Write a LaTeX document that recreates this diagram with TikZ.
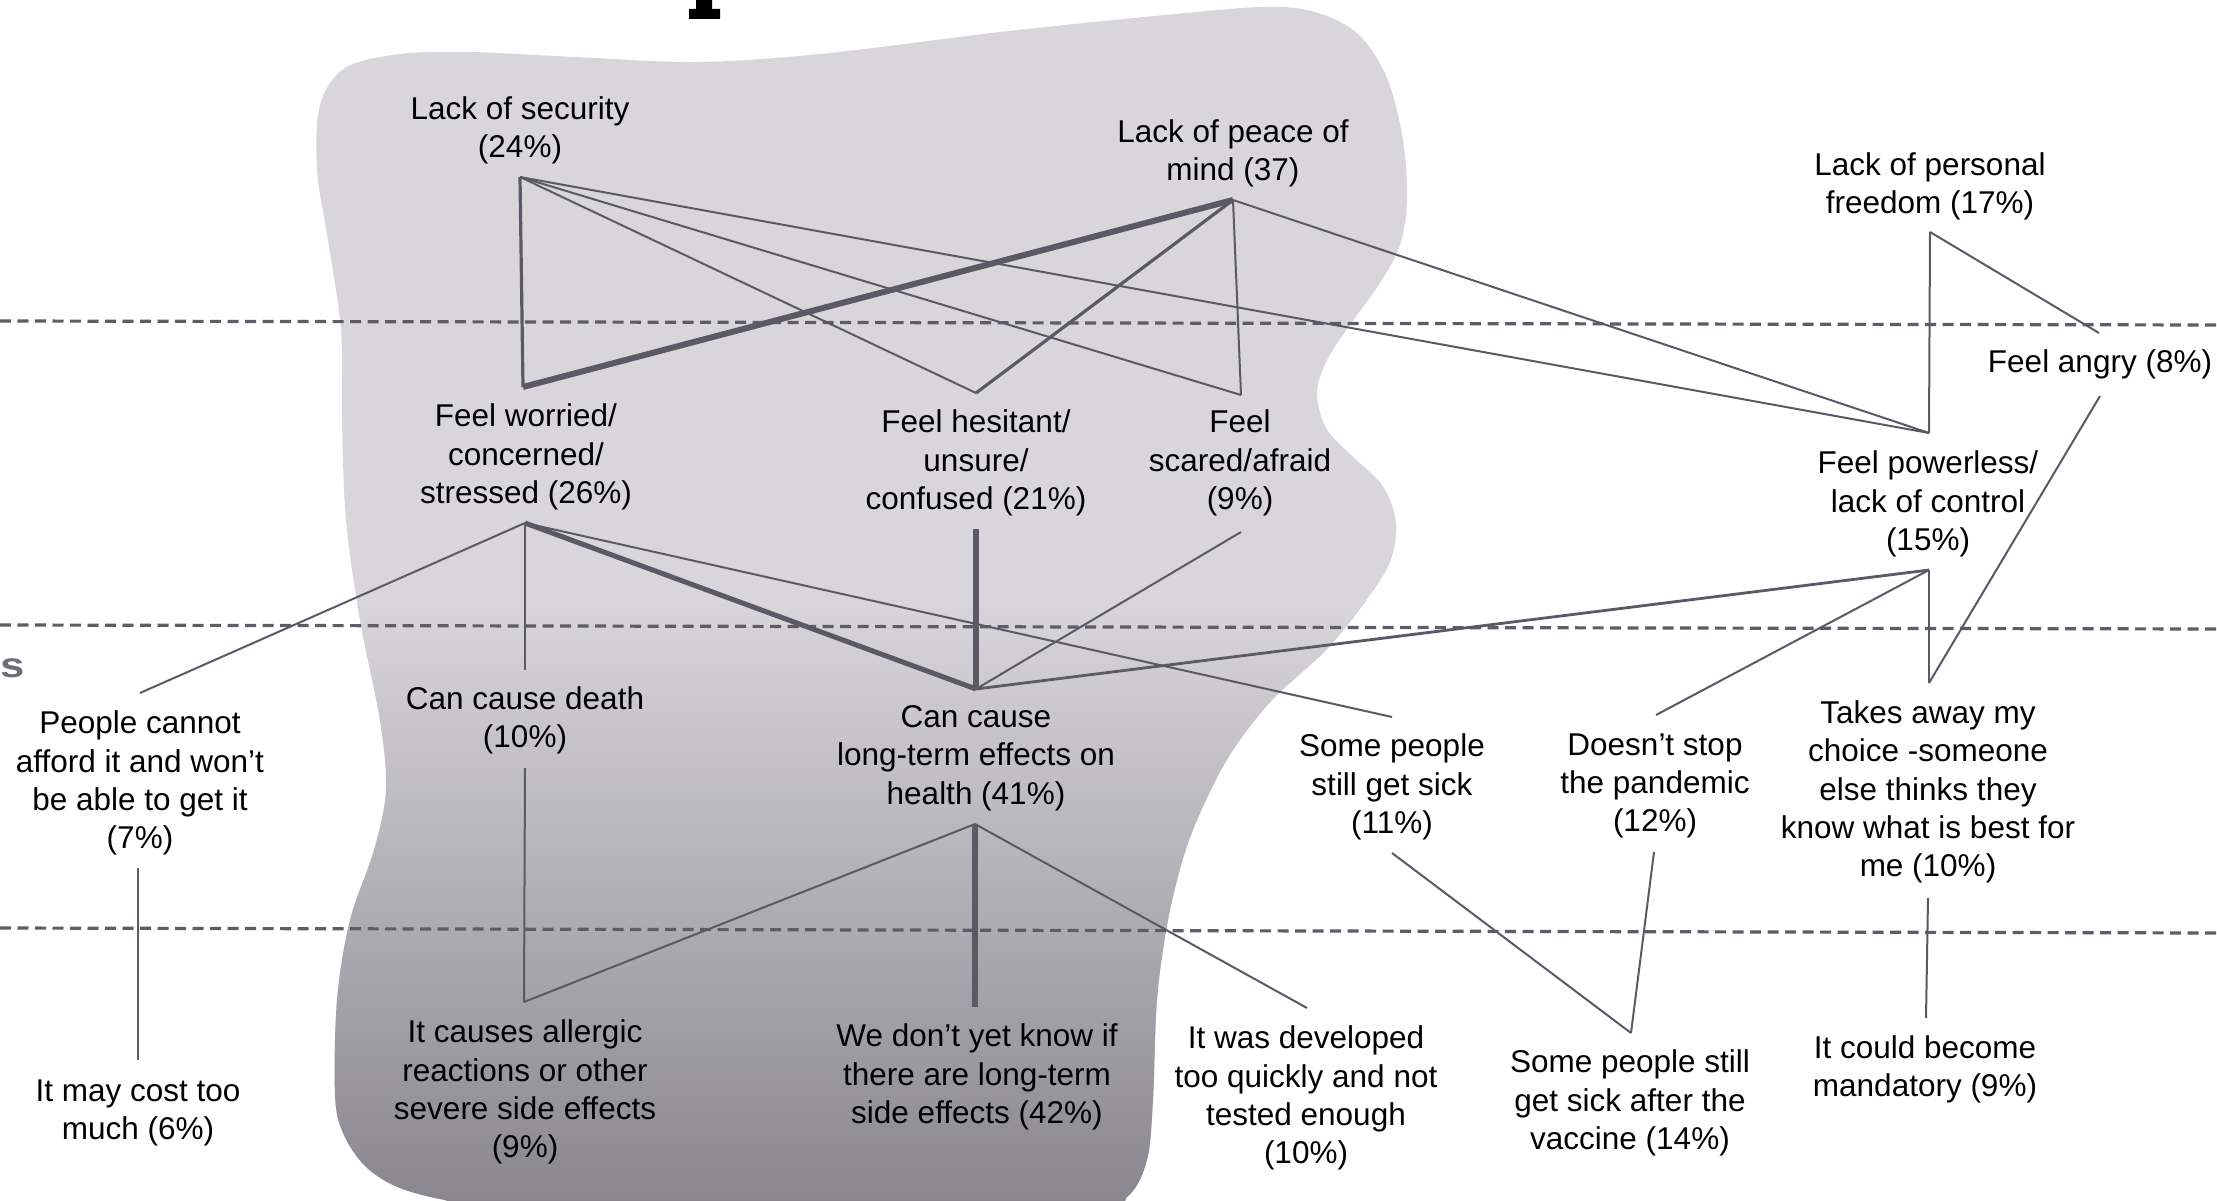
\documentclass[tikz,border=0pt]{standalone}
\usepackage{fontspec}
\setmainfont{Liberation Sans}
\definecolor{blobtop}{HTML}{D8D6DB}
\definecolor{blobbot}{HTML}{88858F}
\definecolor{linkc}{HTML}{5B5965}
\definecolor{dashc}{HTML}{5E5C68}
\definecolor{titlec}{HTML}{6F6D7A}
\newcommand\blobshape{plot[smooth cycle, tension=0.55] coordinates {
  (317,170) (320,105) (345,68) (400,54) (470,52) (575,57) (700,62) (830,53)
  (1000,32) (1155,16) (1262,7) (1315,12) (1358,34) (1387,78) (1403,140)
  (1407,200) (1400,245) (1380,283) (1352,322) (1327,360) (1317,393) (1326,428)
  (1352,456) (1382,485) (1396,522) (1390,562) (1365,602) (1326,650) (1272,700)
  (1233,750) (1206,800) (1185,852) (1168,920) (1157,1000) (1153,1100)
  (1147,1160) (1128,1196) (1090,1206) (800,1208) (500,1206) (440,1199)
  (395,1186) (364,1165) (343,1133) (335,1095) (337,1000) (350,920) (374,850)
  (386,790) (380,720) (360,620) (346,520) (342,420) (341,330) (328,240)}}
\begin{document}
\begin{tikzpicture}[x=1pt, y=-1pt,
  lbl/.style={align=center, font=\fontsize{31.5}{38.3}\selectfont, text=black, inner sep=0pt},
  link/.style={draw=linkc, line width=2pt},
  midlink/.style={link, line width=3.2pt},
  heavylink/.style={link, line width=5.5pt},
  band/.style={draw=dashc, line width=3.2pt, dash pattern=on 11pt off 6.5pt}]
\useasboundingbox (0,0) rectangle (2217,1201);
\fill[white] (0,0) rectangle (2217,1201);

% shaded backdrop: flat in the upper part, darkening towards the bottom
\fill[blobtop] \blobshape;
\begin{scope}
  \clip \blobshape;
  \shade[top color=blobtop, bottom color=blobbot] (0,600) rectangle (2217,1210);
\end{scope}

% cut-off heading fragments
\fill[black] (696,0) -- (712,0) -- (712,9) -- (720,9) -- (720,19) -- (689,19) -- (689,9) -- (696,9) -- cycle;
\node[inner sep=0pt, text=titlec, font=\bfseries\fontsize{35}{35}\selectfont] (headtail) at (13,668) {\scalebox{1.25}[1]{s}};

% level separators
\draw[band] (0,321) -- (2217,325);
\draw[band] (0,625) -- (2217,629);
\draw[band] (0,928) -- (2217,933);

% labels
\node[lbl] (los) at (520,130) {Lack of security\\(24\%)};
\node[lbl] (peace) at (1233,153) {Lack of peace of\\mind (37)};
\node[lbl] (free) at (1930,186) {Lack of personal\\freedom (17\%)};
\node[lbl] (angry) at (2100,364) {Feel angry (8\%)};
\node[lbl] (worried) at (526,457) {Feel worried/\\concerned/\\stressed (26\%)};
\node[lbl] (hes) at (976,463) {Feel hesitant/\\unsure/\\confused (21\%)};
\node[lbl] (scared) at (1240,463) {Feel\\scared/afraid\\(9\%)};
\node[lbl] (power) at (1928,504) {Feel powerless/\\lack of control\\(15\%)};
\node[lbl] (people) at (140,783) {People cannot\\afford it and won’t\\be able to get it\\(7\%)};
\node[lbl] (death) at (525,720) {Can cause death\\(10\%)};
\node[lbl] (long) at (976,758) {Can cause\\long-term effects on\\health (41\%)};
\node[lbl] (sick) at (1392,787) {Some people\\still get sick\\(11\%)};
\node[lbl] (doesnt) at (1655,786) {Doesn’t stop\\the pandemic\\(12\%)};
\node[lbl] (takes) at (1928,792) {Takes away my\\choice -someone\\else thinks they\\know what is best for\\me (10\%)};
\node[lbl] (cost) at (138,1113) {It may cost too\\much (6\%)};
\node[lbl] (allergic) at (525,1092) {It causes allergic\\reactions or other\\severe side effects\\(9\%)};
\node[lbl] (dontknow) at (977,1077) {We don’t yet know if\\there are long-term\\side effects (42\%)};
\node[lbl] (developed) at (1306,1098) {It was developed\\too quickly and not\\tested enough\\(10\%)};
\node[lbl] (vaccine) at (1630,1103) {Some people still\\get sick after the\\vaccine (14\%)};
\node[lbl] (mand) at (1925,1069) {It could become\\mandatory (9\%)};

% connector end points just above / below each label
\coordinate (los-out) at (520,177);
\coordinate (peace-out) at (1233,200);
\coordinate (free-out) at (1930,232);
\coordinate (angry-in) at (2099,333);
\coordinate (angry-out) at (2100,396);
\coordinate (worried-in) at (523,387);
\coordinate (worried-out) at (525,523);
\coordinate (hes-in) at (976,393);
\coordinate (hes-out) at (976,529);
\coordinate (scared-in) at (1241,395);
\coordinate (scared-out) at (1241,532);
\coordinate (power-in) at (1929,433);
\coordinate (power-out) at (1929,570);
\coordinate (people-in) at (140,693);
\coordinate (people-out) at (138,868);
\coordinate (death-in) at (525,670);
\coordinate (death-out) at (525,768);
\coordinate (long-in) at (976,689);
\coordinate (long-out) at (975,824);
\coordinate (sick-in) at (1392,717);
\coordinate (sick-out) at (1392,853);
\coordinate (doesnt-in) at (1656,715);
\coordinate (doesnt-out) at (1654,852);
\coordinate (takes-in) at (1929,683);
\coordinate (takes-out) at (1928,898);
\coordinate (cost-in) at (138,1060);
\coordinate (allergic-in) at (524,1002);
\coordinate (dontknow-in) at (975,1007);
\coordinate (developed-in) at (1307,1008);
\coordinate (vaccine-in) at (1631,1033);
\coordinate (mand-in) at (1926,1018);

% top level to feelings
\draw[midlink] (los-out) -- (worried-in);
\draw[link] (los-out) -- (hes-in);
\draw[link] (los-out) -- (scared-in);
\draw[link] (los-out) -- (power-in);
\draw[heavylink, line width=6pt] (peace-out) -- (worried-in);
\draw[midlink] (peace-out) -- (hes-in);
\draw[link] (peace-out) -- (scared-in);
\draw[link] (peace-out) -- (power-in);
\draw[link] (free-out) -- (power-in);
\draw[link] (free-out) -- (angry-in);

% feelings to reasons
\draw[link] (worried-out) -- (people-in);
\draw[link] (worried-out) -- (death-in);
\draw[heavylink, line width=5pt] (worried-out) -- (long-in);
\draw[link] (worried-out) -- (sick-in);
\draw[heavylink] (hes-out) -- (long-in);
\draw[link] (scared-out) -- (long-in);
\draw[midlink, line width=2.8pt] (power-out) -- (long-in);
\draw[link] (power-out) -- (doesnt-in);
\draw[link] (power-out) -- (takes-in);
\draw[link] (angry-out) -- (takes-in);

% reasons to underlying concerns
\draw[link] (people-out) -- (cost-in);
\draw[link] (death-out) -- (allergic-in);
\draw[link] (long-out) -- (allergic-in);
\draw[heavylink, line width=6pt] (long-out) -- (dontknow-in);
\draw[link] (long-out) -- (developed-in);
\draw[link] (sick-out) -- (vaccine-in);
\draw[link] (doesnt-out) -- (vaccine-in);
\draw[link] (takes-out) -- (mand-in);
\end{tikzpicture}
\end{document}
